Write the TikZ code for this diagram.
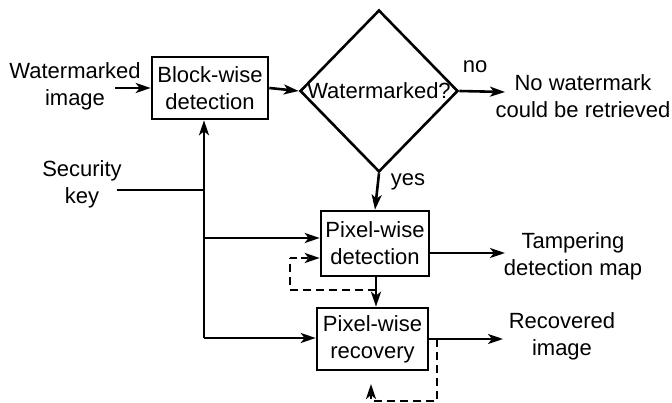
\documentclass[tikz,border=0pt]{standalone}
\usepackage{fontspec}
\setmainfont{Liberation Sans}
\usetikzlibrary{shapes.geometric,arrows.meta}
\begin{document}
\begin{tikzpicture}[x=1pt,y=-1pt,
  every node/.style={font=\fontsize{22}{27}\selectfont, align=center, inner sep=0pt},
  box/.style={draw, line width=2.6pt, rectangle},
  conn/.style={line width=2.6pt, -{Stealth[length=15pt,width=10pt,inset=4pt]}},
  plain/.style={line width=2.6pt},
  dline/.style={line width=2.6pt, dash pattern=on 8pt off 5pt}]
\useasboundingbox (0,0) rectangle (672,403);
% nodes
\node (wimg) at (75,86) {Watermarked\\image};
\node[box, minimum width=116pt, minimum height=62pt] (block) at (210,88) {Block-wise\\detection};
\node[draw, diamond, line width=2.6pt, minimum width=158pt, minimum height=162pt] (dia) at (379,91) {};
\node (diatext) at (379,91) {Watermarked?};
\node (nolab) at (475,67) {no};
\node (noret) at (583,96) {No watermark\\could be retrieved};
\node (yeslab) at (408,182) {yes};
\node (seckey) at (82,184) {Security\\key};
\node[box, minimum width=108pt, minimum height=65pt] (pdet) at (375,243.5) {Pixel-wise\\detection};
\node[box, minimum width=111pt, minimum height=62pt] (prec) at (372.5,339) {Pixel-wise\\recovery};
\node (tamp) at (573,256) {Tampering\\detection map};
\node (recimg) at (562,336) {Recovered\\image};
% coordinates
\coordinate (wimgout) at (115,88);
\coordinate (noin) at (505,92);
\coordinate (tampout) at (429,253);
\coordinate (tampin) at (505,253);
\coordinate (recout) at (428,339);
\coordinate (recin) at (503,339);
\coordinate (keyout) at (117,190);
\coordinate (j1) at (204,190);
\coordinate (j2) at (204,238);
\coordinate (j3) at (204,338);
\coordinate (d1) at (376,290);
\coordinate (d2) at (290,290);
\coordinate (d3) at (290,258);
\coordinate (b1) at (437,339);
\coordinate (b2) at (437,401);
\coordinate (b3) at (371,401);
\coordinate (b4) at (371,384);
% connectors
\draw[conn] (wimgout) -- (block.west);
\draw[conn] (block.east) -- (dia.west);
\draw[conn] (dia.east) -- (noin);
\draw[conn] (dia.south) -- (pdet.north);
\draw[conn] (tampout) -- (tampin);
\draw[conn] (recout) -- (recin);
\draw[plain] (keyout) -- (j1);
\draw[conn] (j3) -- (j1 |- block.south);
\draw[conn] (j2) -- (j2 -| pdet.west);
\draw[conn] (j3) -- (j3 -| prec.west);
\draw[conn] (pdet.south -| d1) -- (prec.north -| d1);
\draw[dline] (d1) -- (d2) -- (d3);
\draw[conn, dash pattern=on 7pt off 4pt] (d3) -- (d3 -| pdet.west);
\draw[dline] (b1) -- (b2) -- (b3) -- ([yshift=-4pt]b4);
\draw[conn] ([yshift=-4pt]b4) -- (b4);
\end{tikzpicture}
\end{document}
